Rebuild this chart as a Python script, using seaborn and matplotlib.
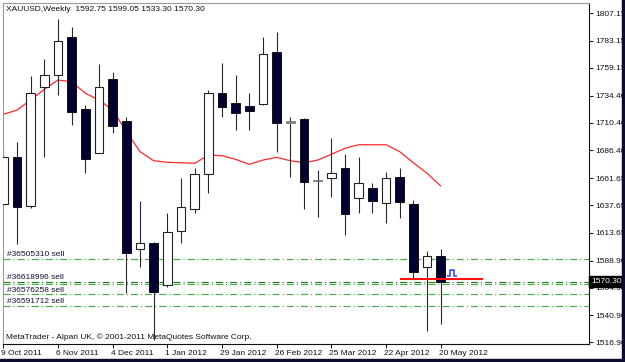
import numpy as np
import pandas as pd
import matplotlib
matplotlib.use("Agg")
import matplotlib.pyplot as plt
import seaborn as sns
from matplotlib.patches import Rectangle
from matplotlib.path import Path
import matplotlib.transforms as mtrans

# ---------------- data ----------------
symbol = "XAUUSD,Weekly"
week_start = "2011-10-09"
opens = [1638.9, 1680.6, 1637.1, 1742.4, 1753.0, 1786.5, 1722.5, 1684.2, 1749.2, 1712.4,
         1598.9, 1604.2, 1567.5, 1615.1, 1634.2, 1665.1, 1736.6, 1727.8, 1725.4, 1727.1,
         1773.3, 1711.4, 1713.6, 1659.9, 1662.1, 1670.9, 1643.9, 1653.3, 1639.5, 1662.5,
         1638.6, 1583.1, 1592.75]
highs = [1692.7, 1693.9, 1751.8, 1766.6, 1802.1, 1795.3, 1726.3, 1762.4, 1755.6, 1715.4,
         1641.6, 1605.0, 1630.7, 1661.6, 1670.4, 1739.5, 1763.6, 1752.7, 1736.6, 1786.5,
         1790.4, 1716.0, 1714.5, 1668.9, 1696.9, 1683.0, 1680.1, 1657.7, 1667.4, 1670.9,
         1642.4, 1597.7, 1599.05]
lows = [1636.0, 1603.4, 1635.1, 1680.6, 1735.1, 1708.6, 1666.0, 1683.5, 1701.3, 1560.1,
        1583.1, 1519.0, 1566.0, 1604.2, 1630.7, 1648.4, 1715.4, 1704.2, 1704.2, 1726.5,
        1685.1, 1662.5, 1634.2, 1627.7, 1644.8, 1611.6, 1631.2, 1630.7, 1622.4, 1626.3,
        1573.4, 1526.9, 1533.30]
closes = [1680.4, 1636.5, 1737.1, 1753.0, 1782.5, 1720.3, 1678.6, 1742.4, 1707.7, 1595.4,
          1604.2, 1561.5, 1613.9, 1636.0, 1665.1, 1737.1, 1724.8, 1718.9, 1721.2, 1771.2,
          1710.6, 1710.8, 1658.6, 1659.3, 1666.0, 1629.8, 1657.2, 1641.8, 1661.6, 1640.9,
          1579.2, 1593.0, 1570.30]
ma_values = [1718.0, 1721.8, 1730.7, 1740.1, 1748.3, 1746.8, 1736.6, 1730.7, 1721.8, 1702.7,
             1685.1, 1677.1, 1675.7, 1675.3, 1674.8, 1682.1, 1681.5, 1678.3, 1673.9, 1677.7,
             1680.1, 1677.1, 1675.3, 1677.7, 1682.8, 1688.1, 1691.2, 1691.2, 1691.2, 1685.1,
             1675.3, 1666.0, 1654.8]
date_tick_bars = [0, 4, 8, 12, 16, 20, 24, 28, 32]
date_tick_labels = ["9 Oct 2011", "6 Nov 2011", "4 Dec 2011", "1 Jan 2012", "29 Jan 2012",
                    "26 Feb 2012", "25 Mar 2012", "22 Apr 2012", "20 May 2012"]
price_ticks = [1807.15, 1783.15, 1759.15, 1734.40, 1710.40, 1686.40, 1661.65,
               1637.65, 1613.65, 1588.90, 1564.90, 1540.90, 1516.90]
order_ids = ["#36505310", "#36618996", "#36576258", "#36591712"]
order_prices = [1590.4, 1570.0, 1559.2, 1548.7]
extra_order_price = 1568.3
stop_level = 1572.5
stop_from_bar, stop_to_bar = 29.0, 35.1
arrow_bar, arrow_price = 32.86, 1578.0
copyright_text = "MetaTrader - Alpari UK, \u00a9 2001-2011 MetaQuotes Software Corp."

# ---------------- style ----------------
sns.set_theme(style="white")
plt.rcParams["font.family"] = ["Liberation Sans", "DejaVu Sans"]
plt.rcParams["lines.scale_dashes"] = False

df = pd.DataFrame({
    "bar": np.arange(len(opens)),
    "week": pd.date_range(week_start, periods=len(opens), freq="7D"),
    "open": opens, "high": highs, "low": lows, "close": closes, "ma": ma_values,
})

W, H = 625, 362
fig = plt.figure(figsize=(W / 100, H / 100), dpi=100, facecolor="white")
ax = fig.add_axes([2.5 / W, (H - 344) / H, (589 - 2.5) / W, (344 - 2.5) / H])
ax.set_facecolor("white")

FS = 6.0
navy = "#000033"
wick_c = "#2a2a2a"
body_w = 0.64

# wicks
ax.vlines(df["bar"], df["low"], df["high"], color=wick_c, lw=0.8, zorder=2)

# bodies
for _, r in df.iterrows():
    o, c = r["open"], r["close"]
    if abs(c - o) < 1.0:
        ax.bar(r["bar"], 1.6, bottom=min(o, c) - 0.4, width=body_w, color="#8a8a8a",
               edgecolor="#6a6a6a", lw=0.5, zorder=3)
    elif c > o:
        ax.bar(r["bar"], c - o, bottom=o, width=body_w, color="white",
               edgecolor="#222222", lw=0.8, zorder=3)
    else:
        ax.bar(r["bar"], o - c, bottom=c, width=body_w, color=navy,
               edgecolor="#000000", lw=0.6, zorder=3)

# moving average
sns.lineplot(data=df, x="bar", y="ma", color="#ff2a2a", lw=0.9, ax=ax, zorder=1)

# order lines
dash = (5.0, 2.2, 0.8, 2.2)
for p in order_prices:
    col = "#1f7a1f" if p == order_prices[1] else "#45ad45"
    ax.axhline(p, color=col, lw=0.85, dashes=dash, zorder=1.5)
ax.axhline(extra_order_price, color="#45ad45", lw=0.85, dashes=dash, zorder=1.5)

blend = mtrans.blended_transform_factory(ax.transAxes, ax.transData)
for oid, p in zip(order_ids, order_prices):
    ax.annotate(f"{oid} sell", xy=(0.008, p), xycoords=blend, xytext=(0, 0.6),
                textcoords="offset points", ha="left", va="bottom", fontsize=FS,
                color="#101030", zorder=6)

# red stop level
ax.hlines(stop_level, stop_from_bar, stop_to_bar, color="#ff1010", lw=1.5, zorder=4)

# blue arrow symbol
sym = Path([(-1.0, -0.6), (-0.5, -0.6), (-0.5, 0.6), (0.5, 0.6), (0.5, -0.6), (1.0, -0.6)],
           [Path.MOVETO] + [Path.LINETO] * 5)
ax.plot([arrow_bar], [arrow_price], marker=sym, markersize=7, markerfacecolor="none",
        markeredgecolor="#3a48ff", markeredgewidth=1.2, linestyle="none", zorder=5)

# axes limits / ticks
ax.set_xlim(-0.06, 42.85)
ax.set_ylim(1515.4, 1816.7)
ax.set_xlabel("")
ax.set_ylabel("")
ax.yaxis.tick_right()
ax.set_yticks(price_ticks)
ax.set_yticklabels([f"{p:.2f}" for p in price_ticks])
ax.set_xticks(date_tick_bars)
ax.set_xticklabels(date_tick_labels, ha="left")
for lab in ax.get_xticklabels():
    lab.set_x(0)
ax.tick_params(axis="y", which="both", right=True, left=False, length=3, width=0.7,
               pad=1.5, labelsize=FS, colors="#111111")
ax.tick_params(axis="x", which="both", bottom=True, length=3, width=0.7,
               pad=1.5, labelsize=FS, colors="#111111")
offset = mtrans.ScaledTranslation(-1.5 / 72, 0, fig.dpi_scale_trans)
for lab in ax.get_xticklabels():
    lab.set_transform(lab.get_transform() + offset)
ax.grid(False)

for side in ["left", "top"]:
    ax.spines[side].set_color("#9a9a9a")
    ax.spines[side].set_linewidth(0.8)
for side in ["right", "bottom"]:
    ax.spines[side].set_color("#111111")
    ax.spines[side].set_linewidth(0.8)

# current price label
ax.annotate(f"{closes[-1]:.2f}", xy=(1.0, closes[-1]), xycoords=blend,
            xytext=(1.8, 0), textcoords="offset points", ha="left", va="center",
            fontsize=FS, color="white", zorder=10, annotation_clip=False,
            bbox=dict(boxstyle="square,pad=0.25", fc="black", ec="black"))

# header and copyright
fig.text(6 / W, 1 - 9.5 / H,
         f"{symbol}  {opens[-1]:.2f} {highs[-1]:.2f} {lows[-1]:.2f} {closes[-1]:.2f}",
         ha="left", va="center", fontsize=FS, color="#111111")
fig.text(6 / W, 1 - 337.5 / H, copyright_text, ha="left", va="center", fontsize=FS,
         color="#111111")

# window frame
fig.add_artist(Rectangle((622 / W, 0), 3 / W, 1, transform=fig.transFigure,
                         color="#0b0b2e", zorder=20))
fig.add_artist(Rectangle((0, 0), 1, 3 / H, transform=fig.transFigure,
                         color="#0b0b2e", zorder=20))

fig.savefig("out.png", dpi=100, facecolor="white")
